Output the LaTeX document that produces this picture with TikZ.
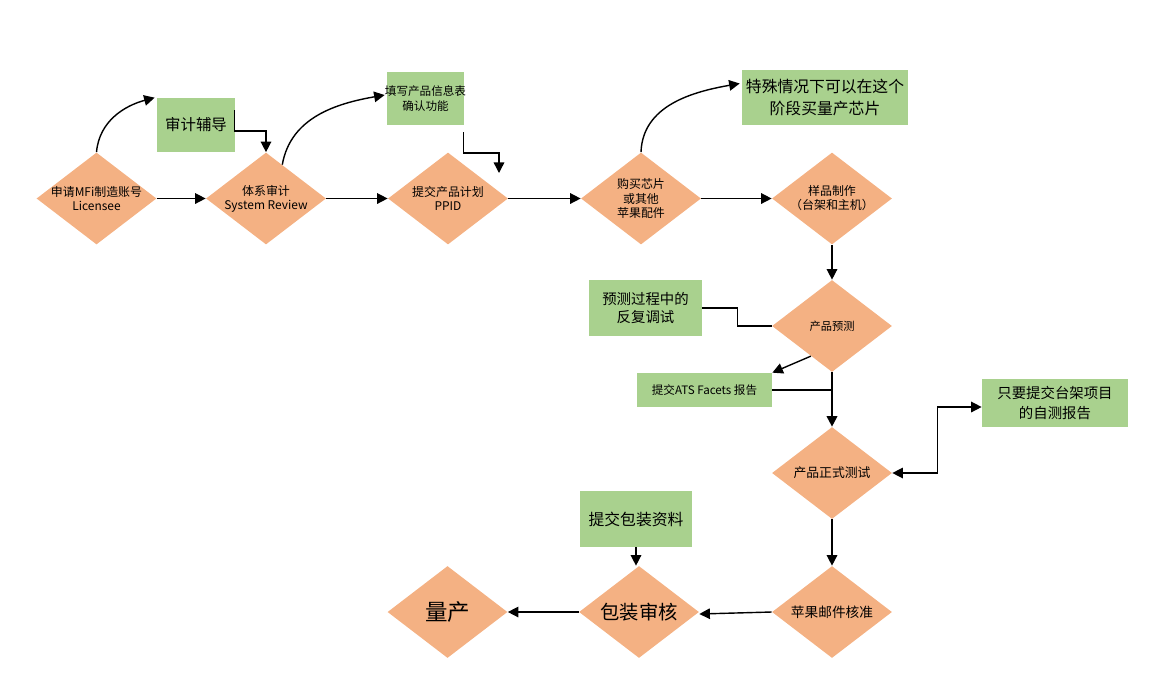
\documentclass[tikz,border=0pt]{standalone}
\usepackage{fontspec}
\setmainfont{Noto Sans CJK SC}
\usepackage{xcolor}
\usepackage{tikz}
\usetikzlibrary{positioning, calc, arrows.meta, shapes.geometric}
\definecolor{stepOrange}{RGB}{244, 177, 131}
\definecolor{noteGreen}{RGB}{169, 209, 142}
\tikzset{
    flowdiamond/.style={
        diamond, aspect=1.3, fill=stepOrange, inner sep=-4pt,
        minimum width=2.4cm, minimum height=1.84cm, align=center,
        font=\fontsize{6.8}{8}\selectfont
    },
    notebox/.style={
        rectangle, fill=noteGreen, inner sep=0pt, align=center
    },
    ptr/.style={
        ->, >={Triangle[length=6pt,width=6pt]}, line width=0.8pt, black
    },
    plainline/.style={
        line width=0.8pt, black
    }
}

\begin{document}
\begin{tikzpicture}[x=0.02cm, y=0.02cm]
        \useasboundingbox (0,0) rectangle (1169,-697);

        % Hauptfluss (Rauten)
        \node[flowdiamond] (d1) at (96.5,-198.5) {申请MFi制造账号\\Licensee};
        \node[flowdiamond] (d2) at (266,-198.5) {体系审计\\System Review};
        \node[flowdiamond] (d3) at (448,-198.5) {提交产品计划\\PPID};
        \node[flowdiamond] (d4) at (641,-198.5) {购买芯片\\或其他\\苹果配件};
        \node[flowdiamond] (d5) at (832,-198.5) {样品制作\\（台架和主机）};
        \node[flowdiamond, font=\fontsize{6.4}{8}\selectfont] (d6) at (832,-326) {产品预测};
        \node[flowdiamond, font=\fontsize{7.3}{8}\selectfont] (d7) at (832,-473) {产品正式测试};
        \node[flowdiamond, font=\fontsize{7.8}{8}\selectfont] (d8) at (832,-612) {苹果邮件核准};
        \node[flowdiamond, font=\fontsize{11}{12}\selectfont] (d9) at (639,-612) {包装审核};
        \node[flowdiamond, font=\fontsize{12.8}{14}\selectfont] (d10) at (447.5,-612) {量产};

        % Hinweise (gruene Kaesten)
        \node[notebox, minimum width=1.56cm, minimum height=1.08cm, font=\fontsize{8.8}{10}\selectfont] (audit) at (196,-125) {审计辅导};
        \node[notebox, minimum width=1.54cm, minimum height=1.06cm, inner xsep=-0.05cm, font=\fontsize{6.6}{8.5}\selectfont] (fill) at (425.5,-98.5) {填写产品信息表\\确认功能};
        \node[notebox, minimum width=3.32cm, minimum height=1.1cm, font=\fontsize{9}{12.3}\selectfont] (special) at (825,-97.5) {特殊情况下可以在这个\\阶段买量产芯片};
        \node[notebox, minimum width=2.26cm, minimum height=1.12cm, font=\fontsize{8.2}{10.4}\selectfont] (retest) at (645.5,-308) {预测过程中的\\反复调试};
        \node[notebox, minimum width=2.7cm, minimum height=0.68cm, font=\fontsize{6.6}{8}\selectfont] (ats) at (704.5,-390) {提交ATS Facets 报告};
        \node[notebox, minimum width=2.92cm, minimum height=0.96cm, font=\fontsize{8.2}{11}\selectfont] (selfrep) at (1055,-403) {只要提交台架项目\\的自测报告};
        \node[notebox, minimum width=2.24cm, minimum height=1.12cm, font=\fontsize{9}{10}\selectfont] (pack) at (636,-519) {提交包装资料};

        \coordinate (fillend) at (499,-173);

        % Pfeile oben
        \draw[ptr] (d1) -- (d2);
        \draw[ptr] (d2) -- (d3);
        \draw[ptr] (d3) -- (d4);
        \draw[ptr] (d4) -- (d5);
        \draw[ptr] (d1.north) to[out=85, in=195] ($(audit.north west)+(-2,0)$);
        \draw[ptr] ($(audit.east)+(-1,15)$) |- ($(d2.north)+(0,21)$) -- (d2.north);
        \draw[ptr] ($(d2.north)!0.27!(d2.east)$) to[out=80, in=190] ($(fill.west)+(-2,3.5)$);
        \draw[ptr] ($(fill.south east)+(-1,-7)$) |- ($(fillend)+(0,20)$) -- (fillend);
        \draw[ptr] (d4.north) to[out=88, in=190] ($(special.west)+(-2,14)$);

        % Pfeile rechts und unten
        \draw[ptr] (d5.south) -- (d6.north);
        \draw[plainline] (retest.east) -- ++(35,0) |- (d6.west);
        \draw[ptr] ($(d6.west)!0.65!(d6.south)$) -- (ats.north east);
        \draw[plainline, line width=0.6pt] (ats.east) -- (ats.east -| d6.south);
        \draw[ptr, line width=1.1pt] (d6.south) -- (d7.north);
        \draw[ptr, <->] (d7.east) -- ++(45,0) |- ($(selfrep.west)+(0,-4)$);
        \draw[ptr] (d7.south) -- (d8.north);
        \draw[ptr] (d8.west) -- ($(d9.east)+(0,-2)$);
        \draw[ptr] (pack.south) -- (pack.south |- d9.north);
        \draw[ptr] (d9.west) -- (d10.east);

    \end{tikzpicture}
\end{document}
